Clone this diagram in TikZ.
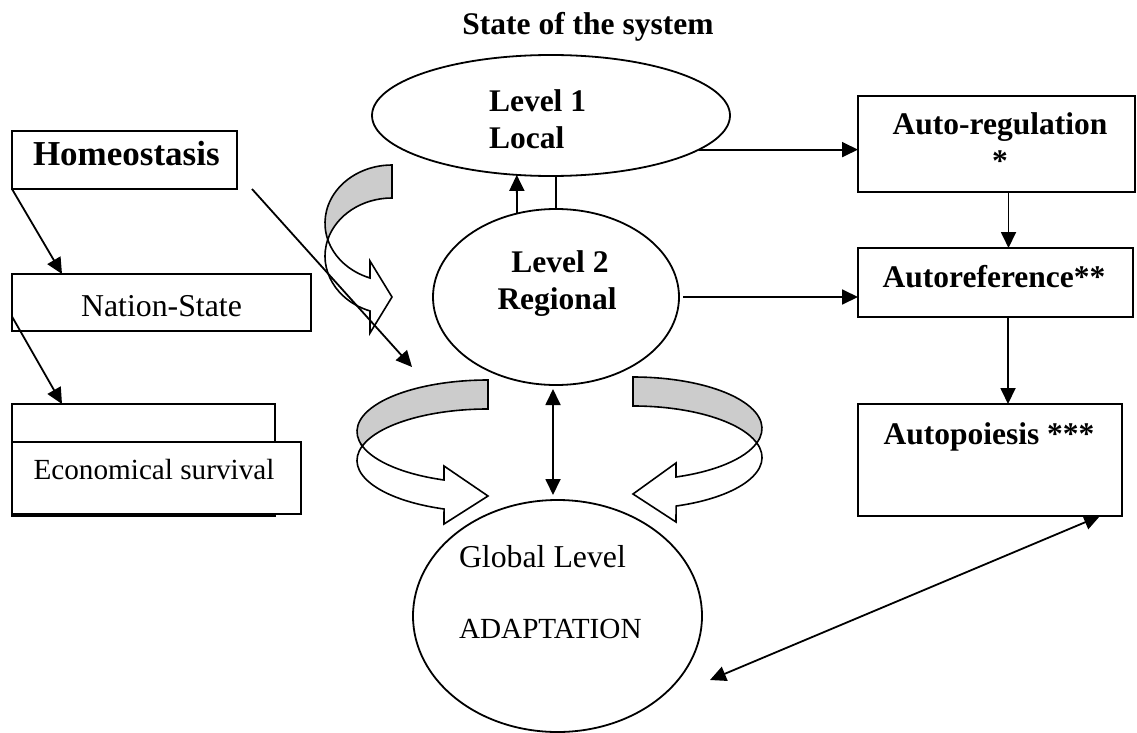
\documentclass[tikz,border=0pt]{standalone}
\usepackage{fontspec}
\setmainfont{Liberation Serif}
\usetikzlibrary{arrows.meta,shapes.geometric,calc}

\begin{document}
\begin{tikzpicture}[x=1pt,y=1pt,yscale=-1,
  line width=1.8pt,
  box/.style={draw,rectangle,line width=2pt,inner sep=0pt,outer sep=0pt,fill=white},
  oval/.style={draw,ellipse,inner sep=0pt,outer sep=0pt},
  lbl/.style={inner sep=0pt,outer sep=0pt,anchor=base},
  lblw/.style={inner sep=0pt,outer sep=0pt,anchor=base west},
  bf/.style={font=\fontsize{31.5}{36}\selectfont\bfseries},
  bfl/.style={font=\fontsize{35}{40}\selectfont\bfseries},
  rm/.style={font=\fontsize{31.8}{36}\selectfont},
  rms/.style={font=\fontsize{29.2}{34}\selectfont},
  arr/.style={-{Triangle[length=16pt,width=15pt]}},
  darr/.style={{Triangle[length=16pt,width=15pt]}-{Triangle[length=16pt,width=15pt]}},
  band/.style={draw,line width=1.6pt,line join=miter},
  shade/.style={band,fill=black!20},
  front/.style={band,fill=white},
]
\useasboundingbox (0,0) rectangle (1137,733);

% curved block arrows: shaded back of the band, then its white front with the head
\path[shade] (392,165) arc[start angle=270,end angle=163.5,x radius=67,y radius=58.1]
  arc[start angle=196.5,end angle=270,x radius=67,y radius=58.1] -- cycle;
\path[front] (327.76,239.6) arc[start angle=196.5,end angle=109.2,x radius=67,y radius=58.1]
  -- (370,333) -- (392,297) -- (370,261) -- (370,278)
  arc[start angle=109.2,end angle=163.5,x radius=67,y radius=58.1] -- cycle;

\path[shade] (488,380) arc[start angle=270,end angle=163.65,x radius=131,y radius=51.5]
  arc[start angle=196.35,end angle=270,x radius=131,y radius=51.5] -- cycle;
\path[front] (362.3,446) arc[start angle=196.35,end angle=109.6,x radius=131,y radius=51.5]
  -- (444,524) -- (488,496) -- (444,466) -- (444,480)
  arc[start angle=109.6,end angle=163.65,x radius=131,y radius=51.5] -- cycle;

\path[shade] (633,377) arc[start angle=-90,end angle=16.35,x radius=129,y radius=51.5]
  arc[start angle=-16.35,end angle=-90,x radius=129,y radius=51.5] -- cycle;
\path[front] (756.8,443) arc[start angle=-16.35,end angle=70.5,x radius=129,y radius=51.5]
  -- (676,522) -- (633,494) -- (676,463) -- (676,477)
  arc[start angle=70.5,end angle=16.35,x radius=129,y radius=51.5] -- cycle;

% title
\node[lbl,bf] (title) at (588,35) {State of the system};

% levels
\node[oval,minimum width=358,minimum height=121] (l1) at (551,115.5) {};
\node[lblw,bf] (l1a) at (489,112) {Level 1};
\node[lblw,bf] (l1b) at (489,148) {Local};

\node[oval,minimum width=246,minimum height=176] (l2) at (556,297) {};
\node[lbl,bf] (l2a) at (560,272) {Level 2};
\node[lbl,bf] (l2b) at (557,309) {Regional};

\node[oval,minimum width=289,minimum height=232] (glob) at (557.5,616) {};
\node[lblw,rm] (g1) at (459,567) {Global Level};
\node[lblw,rms] (g2) at (459,638) {ADAPTATION};

% left column
\node[box,minimum width=225,minimum height=58] (homeo) at (124.5,160) {};
\node[lblw,bfl] (homeot) at (33,165) {Homeostasis};

\node[box,minimum width=299,minimum height=57] (nat) at (161.5,302.5) {};
\node[lbl,rm] (natt) at (161.5,316) {Nation-State};

\node[box,minimum width=263,minimum height=112] (econback) at (143.5,460) {};
\node[box,minimum width=289,minimum height=72] (econ) at (156.5,478) {};
\node[lbl,rms] (econt) at (154,479) {Economical survival};

% right column
\node[box,minimum width=277,minimum height=96] (ar) at (996.5,144) {};
\node[lbl,bf] (art) at (1000,135) {Auto-regulation};
\node[lbl,bf] (ars) at (1000,171) {*};

\node[box,minimum width=275,minimum height=69] (aref) at (995.5,282.5) {};
\node[lbl,bf] (areft) at (994,287) {Autoreference**};

\node[box,minimum width=264,minimum height=112] (apo) at (990,460) {};
\node[lbl,bf] (apot) at (989,444) {Autopoiesis ***};

% connectors
\draw[arr] (l1.-13.2) -- (l1.-13.2 -| ar.west);
\draw[arr] (l2.115.7) -- (l1.-120.55);
\draw (l2.north) -- (l2.north |- l1.south);
\draw[arr] ($(l2.east)+(4,0)$) -- (l2.east -| aref.west);

\coordinate (c1) at ($(ar.south)+(12,0)$);
\draw[arr] (c1) -- (c1 |- aref.north);
\coordinate (c2) at ($(aref.south)+(12.5,0)$);
\draw[arr] (c2) -- (c2 |- apo.north);

\draw[arr] (homeo.south west) -- ($(nat.north west)+(50,0)$);
\draw[arr] ($(nat.west)+(0,14)$) -- ($(econback.north west)+(50,0)$);

\coordinate (dtip) at (412,367);
\draw[arr] ($(homeo.south east)+(15,0)$) -- (dtip);

\coordinate (m1) at ($(l2.south)+(-3,4)$);
\coordinate (m2) at ($(glob.north)+(0,-5)$);
\draw[darr] (m1) -- (m1 |- m2);

\coordinate (gtip) at (710,680);
\draw[darr] ($(apo.south east)+(-22,0)$) -- (gtip);
\end{tikzpicture}
\end{document}
